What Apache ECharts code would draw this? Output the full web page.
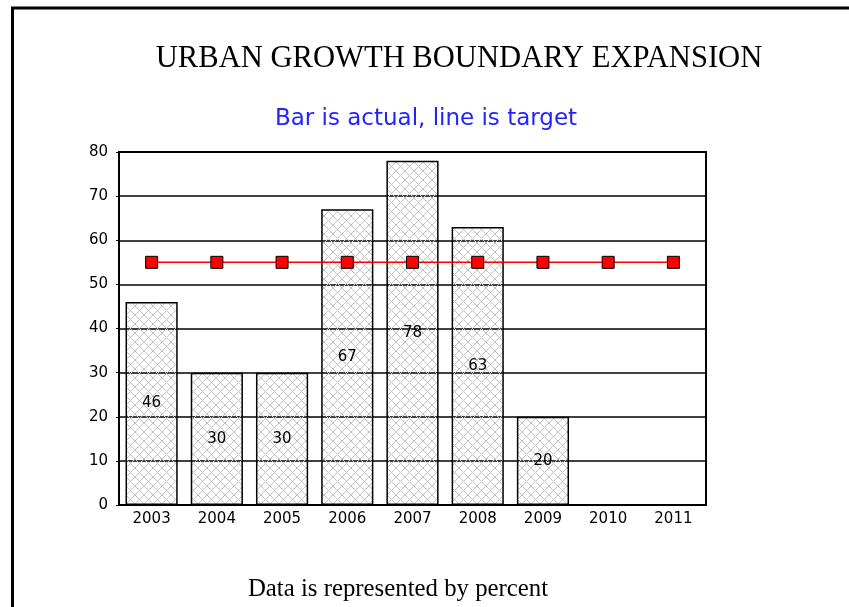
<!DOCTYPE html>
<html>
<head>
<meta charset="utf-8">
<script src="https://cdn.jsdelivr.net/npm/echarts@6/dist/echarts.min.js"></script>
<style>
    html, body { margin: 0; padding: 0; background: #fff; }
    #chart { width: 849px; height: 607px; }
</style>
</head>
<body>
<div id="chart"></div>
<script>
let years = ['2003', '2004', '2005', '2006', '2007', '2008', '2009', '2010', '2011']
let actual = [46, 30, 30, 67, 78, 63, 20, null, null]
let target = [55, 55, 55, 55, 55, 55, 55, 55, 55]
let yTicks = { min: 0, max: 80, step: 10 }

// crosshatch fill for the bars
let makeHatch = function() {
    let c = document.createElement('canvas')
    c.width = 9
    c.height = 9
    let ctx = c.getContext('2d')
    ctx.strokeStyle = '#c2c2c2'
    ctx.lineWidth = 1
    ctx.beginPath()
    ctx.moveTo(0, 0)
    ctx.lineTo(9, 9)
    ctx.moveTo(9, 0)
    ctx.lineTo(0, 9)
    ctx.stroke()
    return c
}

let axisFont = { fontFamily: 'DejaVu Sans', fontSize: 15, color: '#000' }

let option = {
    animation: false,
    backgroundColor: '#fff',
    title: [
        {
            text: 'URBAN GROWTH BOUNDARY EXPANSION',
            left: 454, top: 38, textAlign: 'center',
            textStyle: { fontFamily: 'Liberation Serif', fontSize: 30.6, fontWeight: 'normal', color: '#000' }
        },
        {
            text: 'Bar is actual, line is target',
            left: 421, top: 103, textAlign: 'center',
            textStyle: { fontFamily: 'DejaVu Sans', fontSize: 23, fontWeight: 'normal', color: '#2323ff' }
        },
        {
            text: 'Data is represented by percent',
            left: 393, top: 572, textAlign: 'center',
            textStyle: { fontFamily: 'Liberation Serif', fontSize: 24.8, fontWeight: 'normal', color: '#000' }
        }
    ],
    graphic: [
        {
            type: 'rect',
            shape: { x: 12.5, y: 8, width: 900, height: 700 },
            style: { fill: 'none', stroke: '#000', lineWidth: 3 },
            silent: true
        }
    ],
    grid: {
        left: 119, top: 152, right: 143, bottom: 102,
        show: true, borderColor: '#000', borderWidth: 2
    },
    xAxis: {
        type: 'category',
        data: years,
        axisLine: { lineStyle: { color: '#000', width: 2 } },
        axisTick: { show: false },
        axisLabel: Object.assign({ margin: 7 }, axisFont)
    },
    yAxis: {
        type: 'value',
        min: yTicks.min, max: yTicks.max, interval: yTicks.step,
        axisLine: { show: true, lineStyle: { color: '#000', width: 2 } },
        axisTick: { show: true, length: 3, lineStyle: { color: '#000' } },
        axisLabel: Object.assign({ margin: 11 }, axisFont),
        splitLine: { lineStyle: { color: '#000', width: 1.5 } }
    },
    series: [
        {
            type: 'bar',
            data: actual,
            barWidth: '80%',
            itemStyle: {
                color: { image: makeHatch(), repeat: 'repeat' },
                borderColor: '#000',
                borderWidth: 1.5
            },
            label: {
                show: true, position: 'inside',
                fontFamily: 'DejaVu Sans', fontSize: 15, color: '#000'
            }
        },
        {
            type: 'line',
            data: target,
            symbol: 'rect',
            symbolSize: 12,
            lineStyle: { color: '#ff0000', width: 1.5 },
            itemStyle: { color: '#ff0000', borderColor: '#000', borderWidth: 1 }
        }
    ]
}

let myChart = echarts.init(document.getElementById('chart'))
myChart.setOption(option)
</script>
</body>
</html>
